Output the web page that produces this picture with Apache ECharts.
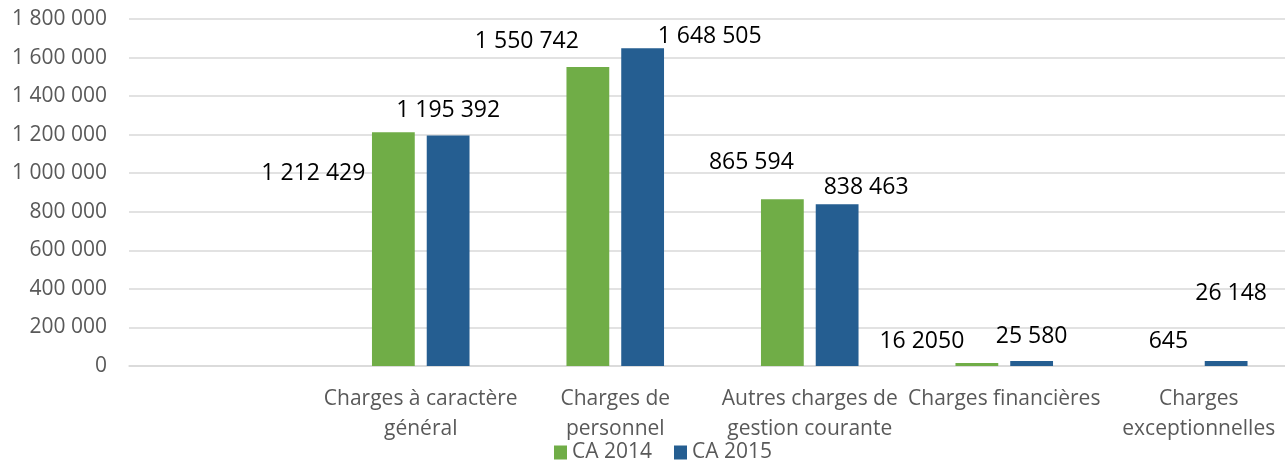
<!DOCTYPE html>
<html lang="fr">
<head>
    <meta charset="utf-8">
    <title>Charges CA 2014 / CA 2015</title>
    <script src="https://cdn.jsdelivr.net/npm/echarts@6/dist/echarts.min.js"></script>
    <style>
        html, body { margin: 0; padding: 0; background: #fff; overflow: hidden; }
        /* the plot area runs past the right edge in the original, so the div is a bit wider */
        #chart { width: 1296px; height: 464px; }
    </style>
</head>
<body>
    <div id="chart"></div>
    <script type="text/javascript">
        // categories (the first one is empty in the original chart)
        var categories = ['', 'Charges à caractère\ngénéral', 'Charges de\npersonnel',
            'Autres charges de\ngestion courante', 'Charges financières', 'Charges\nexceptionnelles'];
        var seriesNames = ['CA 2014', 'CA 2015'];
        var ca2014 = [null, 1212429, 1550742, 865594, 16205, 645];
        var ca2015 = [null, 1195392, 1648505, 838463, 25580, 26148];
        // label texts as printed on the chart
        var labels2014 = ['', '1 212 429', '1 550 742', '865 594', '16 2050', '645'];
        var labels2015 = ['', '1 195 392', '1 648 505', '838 463', '25 580', '26 148'];
        var yTicks = [0, 200000, 400000, 600000, 800000, 1000000, 1200000, 1400000, 1600000, 1800000];

        // where Excel put the labels (offset from the top of each bar)
        var off2014 = [null, [-80, 58], [-61, -9], [-31, -20], [-55, -5], [-3, -8]];
        var off2015 = [null, [0, -9], [67, 5], [29, 0], [0, -8], [5, -51]];

        function fmt(v) {
            return String(v).replace(/\B(?=(\d{3})+(?!\d))/g, ' ');
        }

        function buildData(values, texts, offsets) {
            return values.map(function (v, i) {
                if (v === null) return null;
                return {
                    value: v,
                    label: { show: true, position: 'top', offset: offsets[i], formatter: texts[i] }
                };
            });
        }

        var myChart = echarts.init(document.getElementById('chart'));
        var option = {
            animation: false,
            textStyle: { fontFamily: 'Open Sans' },
            color: ['#70AD47', '#255E91'],
            legend: {
                data: seriesNames,
                top: 437,
                left: 549,
                icon: 'rect',
                itemWidth: 13,
                itemHeight: 14,
                itemGap: 22,
                textStyle: { color: '#595959', fontSize: 21, fontFamily: 'Open Sans' }
            },
            grid: {
                left: 129,
                right: 0,
                top: 19,
                bottom: 98
            },
            xAxis: {
                type: 'category',
                data: categories,
                axisLine: { show: true, lineStyle: { color: '#d9d9d9', width: 1.5 } },
                axisTick: { show: false },
                axisLabel: {
                    interval: 0,
                    color: '#595959',
                    fontSize: 21,
                    lineHeight: 30,
                    margin: 18
                }
            },
            yAxis: {
                type: 'value',
                min: yTicks[0],
                max: yTicks[yTicks.length - 1],
                interval: yTicks[1] - yTicks[0],
                axisLine: { show: false },
                axisTick: { show: false },
                splitLine: { lineStyle: { color: '#d9d9d9', width: 1.5 } },
                axisLabel: {
                    color: '#595959',
                    fontSize: 21,
                    margin: 22,
                    formatter: fmt
                }
            },
            series: [
                {
                    name: seriesNames[0],
                    type: 'bar',
                    barWidth: '22%',
                    barGap: '28%',
                    data: buildData(ca2014, labels2014, off2014),
                    label: { color: '#000', fontSize: 23 }
                },
                {
                    name: seriesNames[1],
                    type: 'bar',
                    barWidth: '22%',
                    barGap: '28%',
                    data: buildData(ca2015, labels2015, off2015),
                    label: { color: '#000', fontSize: 23 }
                }
            ]
        };
        myChart.setOption(option);
    </script>
</body>
</html>
